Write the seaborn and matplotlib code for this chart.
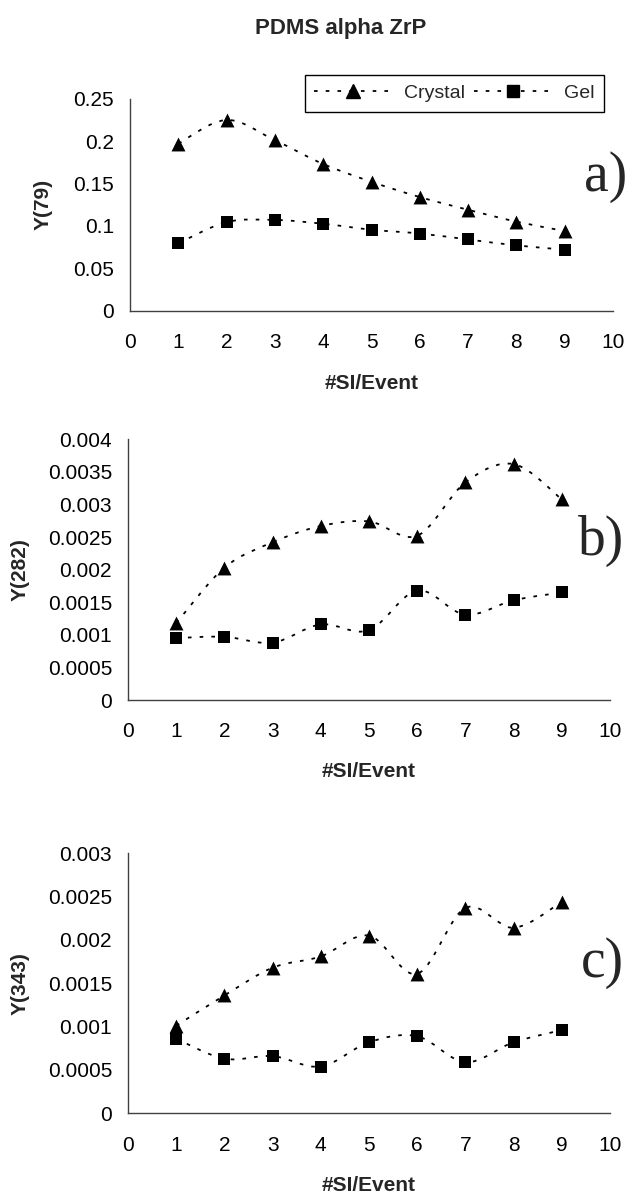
import numpy as np
import matplotlib
matplotlib.use("Agg")
import matplotlib.pyplot as plt
from matplotlib.path import Path
from matplotlib.patches import PathPatch
from matplotlib.lines import Line2D
import seaborn as sns

# ---------------- data ----------------
si_event = [1, 2, 3, 4, 5, 6, 7, 8, 9]

crystal_79 = [0.197, 0.225, 0.201, 0.173, 0.152, 0.134, 0.119, 0.105, 0.094]
gel_79 = [0.0795, 0.1045, 0.107, 0.1025, 0.0955, 0.091, 0.084, 0.077, 0.072]

crystal_282 = [0.00118, 0.00203, 0.00242, 0.00267, 0.00274, 0.00252, 0.00334, 0.00362, 0.00308]
gel_282 = [0.00095, 0.00097, 0.00088, 0.00116, 0.00107, 0.00168, 0.00131, 0.00153, 0.00165]

crystal_343 = [0.00101, 0.00136, 0.00168, 0.00181, 0.00205, 0.00161, 0.00237, 0.00214, 0.00244]
gel_343 = [0.00086, 0.00063, 0.00066, 0.00054, 0.00082, 0.00089, 0.00059, 0.00082, 0.00096]

xticks = [0, 1, 2, 3, 4, 5, 6, 7, 8, 9, 10]
yticks_a = [0, 0.05, 0.1, 0.15, 0.2, 0.25]
yticks_b = [0, 0.0005, 0.001, 0.0015, 0.002, 0.0025, 0.003, 0.0035, 0.004]
yticks_c = [0, 0.0005, 0.001, 0.0015, 0.002, 0.0025, 0.003]

ylabels = ["Y(79)", "Y(282)", "Y(343)"]
panel_tags = ["a)", "b)", "c)"]
series_names = ["Crystal", "Gel"]
title = "PDMS alpha ZrP"
xlabel = "#SI/Event"

# ---------------- style ----------------
sns.set_style("white")
plt.rcParams["font.family"] = ["Liberation Sans", "DejaVu Sans"]

W, H = 632, 1198
fig = plt.figure(figsize=(W / 100, H / 100), dpi=100)

def rect(l, r, top, bottom):
    return [l / W, 1 - bottom / H, (r - l) / W, (bottom - top) / H]

axes_rects = [rect(130, 613, 98.7, 310.7), rect(128, 610, 439.3, 700), rect(128, 610, 853.3, 1113.3)]
panels = [
    (crystal_79, gel_79, yticks_a),
    (crystal_282, gel_282, yticks_b),
    (crystal_343, gel_343, yticks_c),
]
ylabel_x = [-0.16, -0.205, -0.205]
xlabel_y = [-0.298, -0.238, -0.24]
tag_y = [0.565, 0.556, 0.524]

axis_color = "#404040"
ls = (0, (2, 4.5))
lw = 1.3


def smooth_path(xs, ys):
    """Excel-like smoothed line: cubic Bezier segments through the data points."""
    P = np.column_stack([xs, ys]).astype(float)
    n = len(P)
    verts = [P[0]]
    codes = [Path.MOVETO]
    for i in range(n - 1):
        p0 = P[i - 1] if i > 0 else P[i]
        p1 = P[i]
        p2 = P[i + 1]
        p3 = P[i + 2] if i + 2 < n else P[i + 1]
        c1 = p1 + (p2 - p0) / 6.0
        c2 = p2 - (p3 - p1) / 6.0
        verts += [c1, c2, p2]
        codes += [Path.CURVE4] * 3
    return Path(verts, codes)


for k, (cr, ge, yt) in enumerate(panels):
    ax = fig.add_axes(axes_rects[k])
    for ys in (cr, ge):
        patch = PathPatch(smooth_path(si_event, ys), fill=False, edgecolor="black",
                          linewidth=lw, linestyle=ls, transform=ax.transData, zorder=2)
        ax.add_patch(patch)
    sns.scatterplot(x=si_event, y=cr, marker="^", s=100, color="black", linewidth=0, ax=ax, zorder=3)
    sns.scatterplot(x=si_event, y=ge, marker="s", s=66, color="black", linewidth=0, ax=ax, zorder=3)

    ax.set_xlim(xticks[0], xticks[-1])
    ax.set_ylim(yt[0], yt[-1])
    ax.set_xticks(xticks)
    ax.set_xticklabels([f"{v:g}" for v in xticks])
    ax.set_yticks(yt)
    ax.set_yticklabels([f"{v:g}" for v in yt])
    for s in ("top", "right"):
        ax.spines[s].set_visible(False)
    for s in ("left", "bottom"):
        ax.spines[s].set_color(axis_color)
        ax.spines[s].set_linewidth(1.0)
    ax.tick_params(axis="both", direction="out", length=5.5, width=1.0, color=axis_color,
                   labelsize=15, labelcolor="black")
    ax.tick_params(axis="x", pad=10.5)
    ax.tick_params(axis="y", pad=6)
    ax.set_xlabel(xlabel, fontsize=15, fontweight="bold")
    ax.set_ylabel(ylabels[k], fontsize=15, fontweight="bold")
    ax.xaxis.set_label_coords(0.5, xlabel_y[k])
    ax.yaxis.set_label_coords(ylabel_x[k], 0.5)
    ax.grid(False)
    ax.text(1.03, tag_y[k], panel_tags[k], transform=ax.transAxes, ha="right", va="baseline",
            fontsize=40, family=["Liberation Serif", "DejaVu Serif"])

    if k == 0:
        handles = [
            Line2D([], [], color="black", linestyle=ls, linewidth=lw, marker="^", markersize=10),
            Line2D([], [], color="black", linestyle=ls, linewidth=lw, marker="s", markersize=8),
        ]
        leg = ax.legend(handles, series_names, loc="center", bbox_to_anchor=(454.3 / W, 1 - 93.4 / H),
                        bbox_transform=fig.transFigure, ncol=2, fontsize=14, frameon=True,
                        fancybox=False, framealpha=1, edgecolor="black", handlelength=4.0,
                        handletextpad=0.6, columnspacing=0.5, borderpad=0.5, numpoints=1)
        leg.get_frame().set_linewidth(1.0)

fig.text(341 / W, 1 - 34 / H, title, ha="center", va="baseline", fontsize=16, fontweight="bold")

fig.savefig("out.png", dpi=100)
